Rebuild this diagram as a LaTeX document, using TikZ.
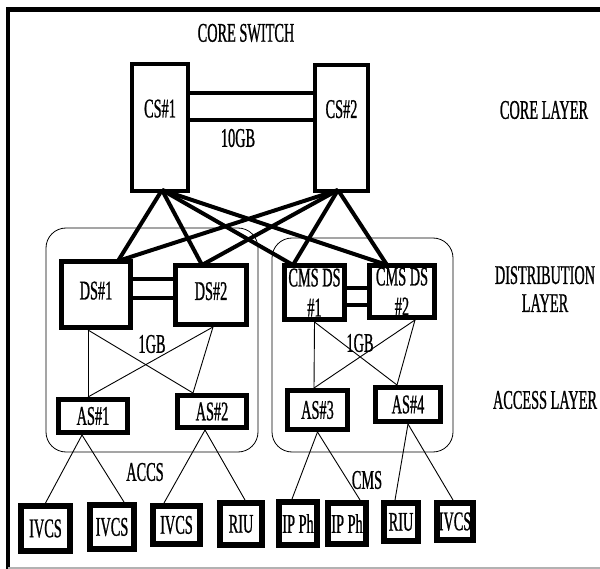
\documentclass[tikz,border=0pt]{standalone}
\usepackage{fontspec}
\setmainfont[FakeStretch=0.53,FakeBold=0.8]{Liberation Serif}
\usetikzlibrary{positioning}

\begin{document}
\begin{tikzpicture}[x=1pt,y=-1pt,
  sw/.style={rectangle,draw,line width=4pt,inner sep=0pt,font=\fontsize{27}{30}\selectfont},
  ds/.style={rectangle,draw,line width=5pt,inner sep=0pt,font=\fontsize{27}{30}\selectfont},
  dv/.style={rectangle,draw,line width=6pt,inner sep=0pt,font=\fontsize{27}{30}\selectfont},
  lk/.style={line width=4pt},
  th/.style={line width=0.9pt},
  grp/.style={line width=0.8pt,rounded corners=20pt},
  note/.style={inner sep=0pt,font=\fontsize{27}{28}\selectfont,align=center}]

\useasboundingbox (0,0) rectangle (600,569);

% frame
\draw[line width=4.5pt] (8,569) -- (8,9.5) -- (600,9.5);
\draw[black!30,line width=2pt] (8,567.5) -- (600,567.5);

% group outlines
\draw[grp] (46,228) rectangle (258,452);
\draw[grp] (272,238) rectangle (453,452);

% core layer
\node[sw,minimum width=56pt,minimum height=127pt,text depth=38pt] (cs1) at (160,127.5) {CS\#1};
\node[sw,minimum width=53pt,minimum height=126pt,text depth=38pt] (cs2) at (341.5,128) {CS\#2};
\draw[lk] ([yshift=34.5pt]cs1.east) -- ([yshift=35pt,xshift=3pt]cs2.west);
\draw[lk] ([yshift=7.5pt]cs1.east) -- ([yshift=8pt]cs2.west);

% distribution layer
\node[ds,minimum width=69pt,minimum height=66pt,text depth=8pt] (ds1) at (96,294.5) {DS\#1};
\node[ds,minimum width=71pt,minimum height=59pt,text depth=8pt] (ds2) at (211,295) {DS\#2};
\node[ds,minimum width=60pt,minimum height=54pt,align=center] (cds1) at (314.5,292.5) {CMS DS\\\#1};
\node[ds,minimum width=65pt,minimum height=52pt,align=center] (cds2) at (402,291.5) {CMS DS\\\#2};
\draw[lk] ([yshift=15.5pt]ds1.east) -- ([yshift=16pt]ds2.west);
\draw[lk] ([yshift=-3.5pt]ds1.east) -- ([yshift=-3pt]ds2.west);
\draw[lk] ([yshift=4.5pt]cds1.east) -- ([yshift=3.5pt]cds2.west);
\draw[lk] ([yshift=-12.5pt]cds1.east) -- ([yshift=-13.5pt]cds2.west);

% core to distribution, full mesh
\draw[lk] ([xshift=2pt,yshift=3pt]cs1.south) -- ([xshift=22pt,yshift=-2pt]ds1.north);
\draw[lk] ([xshift=2pt,yshift=3pt]cs1.south) -- ([xshift=-9pt,yshift=-2pt]ds2.north);
\draw[lk] ([xshift=2pt,yshift=3pt]cs1.south) -- ([xshift=-21.5pt,yshift=-2pt]cds1.north);
\draw[lk] ([xshift=2pt,yshift=3pt]cs1.south) -- ([xshift=-15pt,yshift=-2pt]cds2.north);
\draw[lk] ([xshift=-3.5pt,yshift=3pt]cs2.south) -- ([xshift=22pt,yshift=-2pt]ds1.north);
\draw[lk] ([xshift=-3.5pt,yshift=3pt]cs2.south) -- ([xshift=-9pt,yshift=-2pt]ds2.north);
\draw[lk] ([xshift=-3.5pt,yshift=3pt]cs2.south) -- ([xshift=-21.5pt,yshift=-2pt]cds1.north);
\draw[lk] ([xshift=-3.5pt,yshift=3pt]cs2.south) -- ([xshift=-15pt,yshift=-2pt]cds2.north);

% access layer
\node[ds,minimum width=69pt,minimum height=33pt] (as1) at (93,416) {AS\#1};
\node[ds,minimum width=69pt,minimum height=32pt] (as2) at (212,411.5) {AS\#2};
\node[ds,minimum width=60pt,minimum height=39pt] (as3) at (317.5,410) {AS\#3};
\node[ds,minimum width=65pt,minimum height=34pt] (as4) at (408,404.5) {AS\#4};
\draw[th] ([xshift=-8pt]ds1.south) -- ([xshift=-5pt]as1.north);
\draw[th] ([xshift=-8pt]ds1.south) -- ([xshift=-19pt]as2.north);
\draw[th] ([xshift=2pt]ds2.south) -- ([xshift=-5pt]as1.north);
\draw[th] ([xshift=2pt]ds2.south) -- ([xshift=-19pt]as2.north);
\draw[th] (cds1.south) -- ([xshift=-3.5pt]as3.north);
\draw[th] (cds1.south) -- ([xshift=-11pt]as4.north);
\draw[th] ([xshift=13pt]cds2.south) -- ([xshift=-3.5pt]as3.north);
\draw[th] ([xshift=13pt]cds2.south) -- ([xshift=-11pt]as4.north);

% end devices
\node[dv,minimum width=49pt,minimum height=45pt] (iv1) at (45.5,528.5) {IVCS};
\node[dv,minimum width=44pt,minimum height=44pt] (iv2) at (112,527) {IVCS};
\node[dv,minimum width=47pt,minimum height=38pt] (iv3) at (176.5,525) {IVCS};
\node[dv,minimum width=42pt,minimum height=42pt] (riu1) at (241,524) {RIU};
\node[dv,minimum width=38pt,minimum height=43pt] (ip1) at (298,523.5) {IP Ph};
\node[dv,minimum width=38pt,minimum height=41pt] (ip2) at (347,523.5) {IP Ph};
\node[dv,minimum width=34pt,minimum height=38pt] (riu2) at (401,522) {RIU};
\node[dv,minimum width=36pt,minimum height=37pt] (iv4) at (455,521.5) {IVCS};
\draw[th] ([xshift=-11pt]as1.south) -- (iv1.north);
\draw[th] ([xshift=-11pt]as1.south) -- ([xshift=12pt]iv2.north);
\draw[th] ([xshift=-7pt]as2.south) -- ([xshift=-12.5pt]iv3.north);
\draw[th] ([xshift=-7pt]as2.south) -- ([xshift=4pt]riu1.north);
\draw[th] (as3.south) -- ([xshift=-6pt]ip1.north);
\draw[th] (as3.south) -- ([xshift=13pt]ip2.north);
\draw[th] (as4.south) -- ([xshift=-6pt]riu2.north);
\draw[th] (as4.south) -- ([xshift=-2pt]iv4.north);

% labels
\node[note] (tcore) at (246,33) {CORE SWITCH};
\node[note] (t10g) at (238,138) {10GB};
\node[note] (t1gb) at (152,344) {1GB};
\node[note] (t1gbc) at (360,343) {1GB};
\node[note] (taccs) at (145,472) {ACCS};
\node[note] (tcms) at (367,480) {CMS};
\node[note] (lcore) at (544,110) {CORE LAYER};
\node[note] (ldist) at (545,289) {DISTRIBUTION\\LAYER};
\node[note] (lacc) at (545,400) {ACCESS LAYER};
\end{tikzpicture}
\end{document}
